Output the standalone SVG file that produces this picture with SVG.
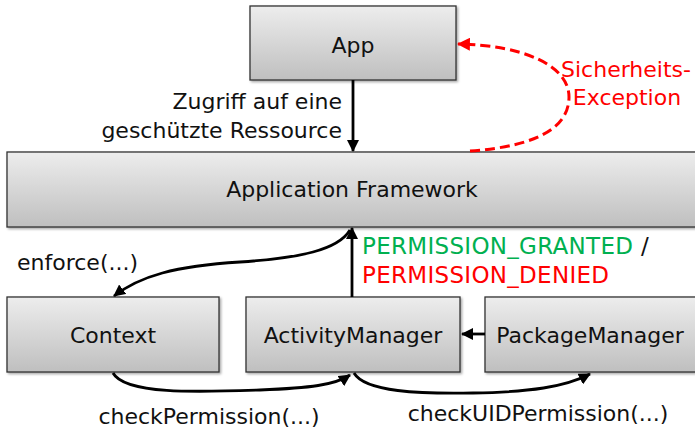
<svg xmlns="http://www.w3.org/2000/svg" width="695" height="430" viewBox="0 0 695 430">
  <defs>
    <linearGradient id="boxFill" x1="0" y1="0" x2="0" y2="1">
      <stop offset="0" stop-color="#ededed"/>
      <stop offset="1" stop-color="#bfbfbf"/>
    </linearGradient>
    <filter id="shadow" x="-5%" y="-10%" width="115%" height="130%">
      <feDropShadow dx="1.5" dy="1.5" stdDeviation="1" flood-color="#000" flood-opacity="0.35"/>
    </filter>
    <marker id="arrowBlack" viewBox="0 0 12 12" markerWidth="12" markerHeight="12" refX="11" refY="6" orient="auto" markerUnits="userSpaceOnUse">
      <path d="M0,0 L12,6 L0,12 z" fill="#000"/>
    </marker>
    <marker id="arrowRed" viewBox="0 0 12 12" markerWidth="13" markerHeight="13" refX="11" refY="6" orient="auto" markerUnits="userSpaceOnUse">
      <path d="M0,0 L12,6 L0,12 z" fill="#ff0000"/>
    </marker>
    <style>
      .box { fill: url(#boxFill); stroke: #333; stroke-width: 1.3; filter: url(#shadow); }
      text { font-family: "DejaVu Sans", "Liberation Sans", sans-serif; font-size: 22px; fill: #111; }
      .label { text-anchor: middle; }
      .edge { fill: none; stroke: #000; stroke-width: 2.8; marker-end: url(#arrowBlack); }
      .edge-red { fill: none; stroke: #ff0000; stroke-width: 3; stroke-dasharray: 10 5; marker-end: url(#arrowRed); }
      .status { font-size: 23px; letter-spacing: 0.3px; }
      .granted { fill: #00b050; }
      .denied { fill: #ff0000; }
    </style>
  </defs>

  <!-- nodes -->
  <g id="app">
    <rect class="box" x="250" y="6" width="206" height="74"/>
    <text class="label" x="353" y="53">App</text>
  </g>
  <g id="framework">
    <rect class="box" x="7" y="152" width="700" height="75"/>
    <text class="label" x="352" y="197">Application Framework</text>
  </g>
  <g id="context">
    <rect class="box" x="7" y="297" width="212" height="75"/>
    <text class="label" x="113" y="343">Context</text>
  </g>
  <g id="activity-manager">
    <rect class="box" x="246" y="297" width="214" height="75"/>
    <text class="label" x="353" y="343">ActivityManager</text>
  </g>
  <g id="package-manager">
    <rect class="box" x="485" y="297" width="220" height="75"/>
    <text class="label" x="590" y="343">PackageManager</text>
  </g>

  <!-- connectors -->
  <g id="connectors">
    <path class="edge" d="M353 80 L353 151"/>
    <path class="edge-red" d="M470 151 C542 146 569 125 569 97 C569 65 522 45 458 44"/>
    <path class="edge" d="M352 297 L352 228"/>
    <path class="edge" d="M350 230 C338 250 300 258 240 262 C175 266 140 276 114 296"/>
    <path class="edge" d="M485 334 L462 334"/>
    <path class="edge" d="M113 373 C125 395 200 392 260 390 C310 388 335 385 350 375"/>
    <path class="edge" d="M354 373 C365 392 420 394 473 393 C530 392 565 387 590 374"/>
  </g>

  <!-- connector labels -->
  <g id="labels">
    <text x="342" y="109" text-anchor="end">Zugriff auf eine</text>
    <text x="342" y="138" text-anchor="end">geschützte Ressource</text>
    <text class="denied label" x="626" y="77">Sicherheits-</text>
    <text class="denied label" x="627" y="105">Exception</text>
    <text x="17" y="270">enforce(...)</text>
    <text class="status" x="362" y="254"><tspan class="granted">PERMISSION_GRANTED</tspan> /</text>
    <text class="status denied" x="362" y="283">PERMISSION_DENIED</text>
    <text class="label" x="209" y="424">checkPermission(...)</text>
    <text class="label" x="538" y="421">checkUIDPermission(...)</text>
  </g>
</svg>
